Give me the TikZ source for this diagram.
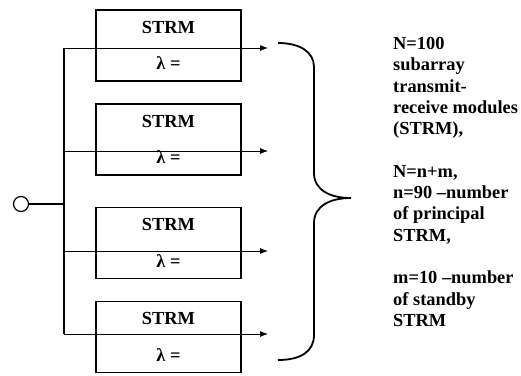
\documentclass[tikz,border=0pt]{standalone}
\usepackage{fontspec}
\setmainfont{Liberation Serif}
\usetikzlibrary{arrows.meta}
\begin{document}
\begin{tikzpicture}[x=1pt,y=-1pt,
  strm/.style={draw,line width=1.6pt,minimum width=145pt,minimum height=71pt,inner sep=0pt},
  lbl/.style={font=\fontsize{18.4}{21.3}\selectfont\bfseries,inner sep=0pt},
  para/.style={font=\fontsize{18.4}{21.3}\selectfont\bfseries,inner sep=0pt,anchor=north west,align=left},
  arr/.style={line width=0.8pt,-{Latex[length=8pt,width=6pt]}},
  bus/.style={line width=1.2pt},
  brace/.style={line width=1.8pt}]
\useasboundingbox (0,0) rectangle (521,375);
% boxes
\node[strm] (b1) at (168.5,45.5) {};
\node[strm] (b2) at (168.5,139.5) {};
\node[strm] (b3) at (168.5,243) {};
\node[strm] (b4) at (168.5,337) {};
\foreach \b in {b1,b2,b3,b4}{
  \node[lbl] (s\b) at ([yshift=-18pt]\b.north) {STRM};
  \node[lbl] (l\b) at ([yshift=-54pt]\b.north) {λ =};
}
% bus and arrows
\coordinate (j1) at (64,48);
\coordinate (j2) at (64,151);
\coordinate (j3) at (64,251);
\coordinate (j4) at (64,334);
\coordinate (e1) at (268,48);
\coordinate (e2) at (268,151);
\coordinate (e3) at (268,251);
\coordinate (e4) at (268,334);
\draw[bus] (j1) -- (j4);
\foreach \i in {1,2,3,4}{\draw[arr] (j\i) -- (e\i);}
\node[draw,circle,line width=1.2pt,minimum size=15pt,inner sep=0pt] (c) at (21,204) {};
\draw[bus] (c) -- (c -| j1);
% brace
\coordinate (bt) at (278,43);
\coordinate (bm) at (351,198);
\coordinate (bb) at (278,360);
\draw[brace] (bt) .. controls (300,43) and (314,52) .. (314,67) -- (314,173)
  .. controls (314,190) and (330,198) .. (bm)
  .. controls (330,198) and (314,206) .. (314,223) -- (314,335)
  .. controls (314,352) and (300,360) .. (bb);
% text
\node[para] (t1) at (393,37) {N=100\\subarray\\transmit-\\receive modules\\(STRM),};
\node[para] (t2) at (393,165) {N=n+m,\\n=90 –number\\of principal\\STRM,};
\node[para] (t3) at (393,271) {m=10 –number\\of standby\\STRM};
\end{tikzpicture}
\end{document}
